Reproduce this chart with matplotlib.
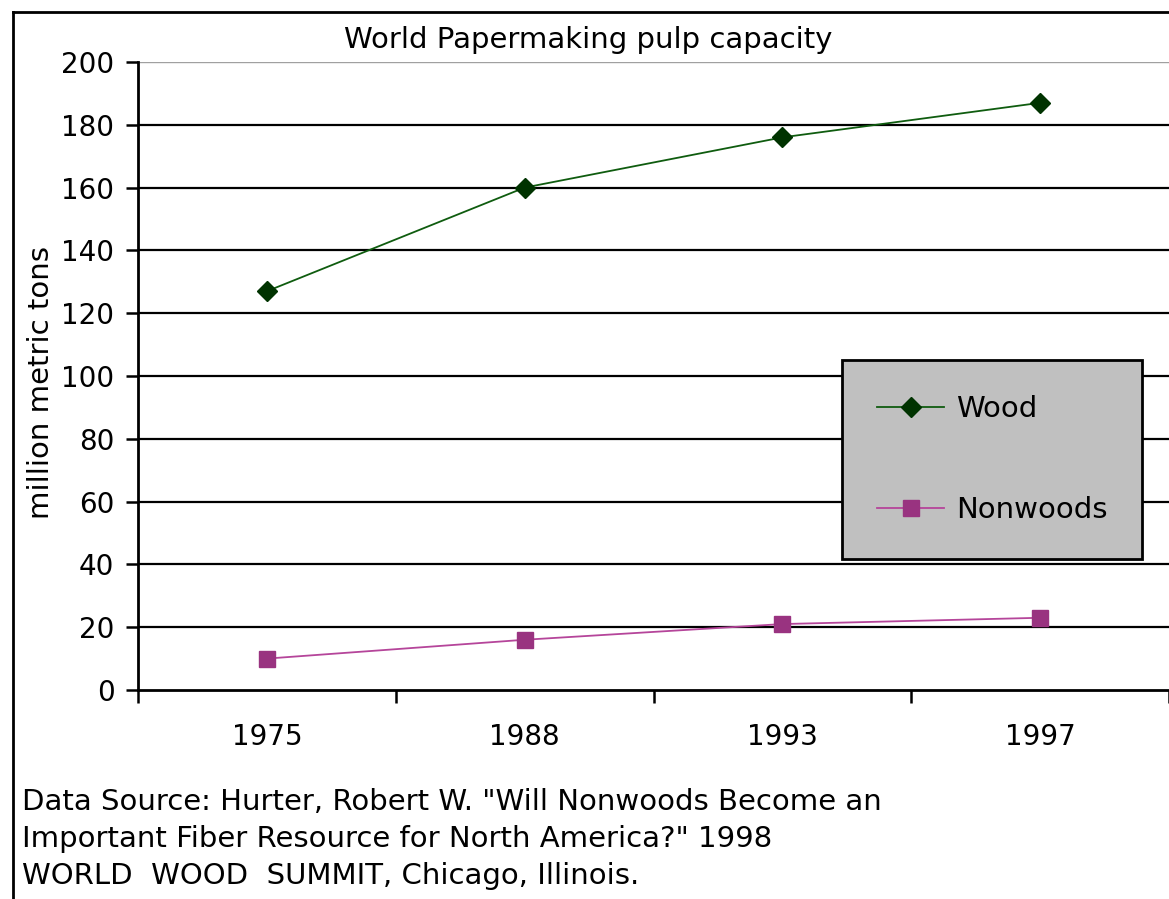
import matplotlib
matplotlib.use("Agg")
import matplotlib.pyplot as plt
from matplotlib.lines import Line2D

years = ["1975", "1988", "1993", "1997"]
wood = [127, 160, 176, 187]
nonwoods = [10, 16, 21, 23]
yticks = [0, 20, 40, 60, 80, 100, 120, 140, 160, 180, 200]
title = "World Papermaking pulp capacity"
ylabel = "million metric tons"
source = ('Data Source: Hurter, Robert W. "Will Nonwoods Become an\n'
          'Important Fiber Resource for North America?" 1998\n'
          'WORLD  WOOD  SUMMIT, Chicago, Illinois.')

W, H = 1169, 899
plt.rcParams['font.family'] = ['DejaVu Sans']
fig = plt.figure(figsize=(W / 100, H / 100), dpi=100)
fig.patch.set_facecolor('white')

ax = fig.add_axes([138 / W, 1 - 690 / H, 1 - 138 / W, (690 - 62) / H])
x = list(range(len(years)))
FS = 21
TFS = 20

ax.plot(x, wood, color='#0f5c0f', lw=1.3, marker='D', ms=10,
        mfc='#003300', mec='#003300', label='Wood', zorder=3)
ax.plot(x, nonwoods, color='#b5459a', lw=1.3, marker='s', ms=11,
        mfc='#993380', mec='#993380', label='Nonwoods', zorder=3)

ax.set_xlim(-0.5, len(years) - 0.5)
ax.set_ylim(0, 200)
ax.set_yticks(yticks)
ax.set_yticklabels([str(v) for v in yticks], fontsize=TFS)
ax.set_xticks(x)
ax.set_xticklabels(years, fontsize=TFS)
ax.set_xticks([i + 0.5 for i in range(-1, len(years))], minor=True)
ax.tick_params(axis='x', which='major', length=0, pad=24)
ax.tick_params(axis='x', which='minor', length=9, width=1.8, direction='out')
ax.tick_params(axis='y', which='major', length=9, width=1.8, direction='out', pad=8)

for v in yticks[1:-1]:
    ax.axhline(v, color='black', lw=1.6, zorder=1)
ax.axhline(200, color='#a0a0a0', lw=1.0, zorder=1)

for s in ['top', 'right']:
    ax.spines[s].set_visible(False)
for s in ['left', 'bottom']:
    ax.spines[s].set_linewidth(2)
    ax.spines[s].set_color('black')

ax.set_ylabel(ylabel, fontsize=FS)
ax.yaxis.set_label_coords((55 - 138) / (W - 138), 0.49)
fig.text(588 / W, 1 - 40 / H, title, fontsize=FS, ha='center', va='center')
fig.text(22 / W, 1 - 788 / H, source, fontsize=FS, ha='left', va='top',
         linespacing=1.41)

leg = fig.legend(loc='upper left', bbox_to_anchor=(842 / W, 1 - 360 / H),
                 fontsize=FS, frameon=True, fancybox=False, facecolor='#c0c0c0',
                 edgecolor='black', framealpha=1, borderpad=1.2,
                 labelspacing=2.5, handlelength=2.3, handletextpad=0.4,
                 borderaxespad=0)
leg.get_frame().set_linewidth(2)

# outer chart frame
fig.add_artist(Line2D([13 / W, 13 / W], [0, 1 - 12 / H], color='black', lw=2))
fig.add_artist(Line2D([13 / W, 1], [1 - 12 / H, 1 - 12 / H], color='black', lw=2))

fig.savefig('out.png', dpi=100, facecolor='white')
